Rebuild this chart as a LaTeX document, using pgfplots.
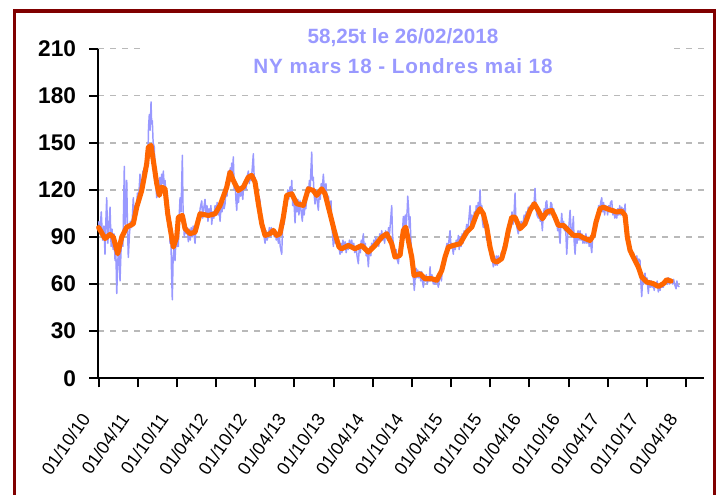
\documentclass[border=0pt]{standalone}
\usepackage{fontspec}
\setmainfont{Liberation Sans}
\usepackage{pgfplots}
\usepackage{pgfplotstable}
\pgfplotsset{compat=1.18}
\definecolor{framered}{RGB}{128,0,0}
\definecolor{blueline}{RGB}{153,153,255}
\definecolor{orangeline}{RGB}{255,102,0}
\definecolor{gridgray}{RGB}{185,185,185}
\definecolor{titleblue}{RGB}{153,153,255}

% daily price (blue), x = months since 01/10/2010
\pgfplotstableread{
m v
0 100
0.2 92
0.4 106
0.6 88
0.8 97
0.97 79
1.1 100
1.23 115
1.4 86
1.55 96
1.74 109
1.9 84
2.05 95
2.2 82
2.35 92
2.5 75
2.6 85
2.76 54
2.9 72
3.05 86
3.26 62
3.4 80
3.55 92
3.7 84
3.91 135
4.05 98
4.15 108
4.28 126
4.4 95
4.52 77
4.7 92
4.85 100
5.04 96
5.15 104
5.28 115
5.45 102
5.6 110
5.75 104
5.9 118
6.05 112
6.3 130
6.45 118
6.6 125
6.75 132
6.9 124
7.07 137
7.2 132
7.35 145
7.5 140
7.6 160
7.72 168
7.85 158
7.98 176
8.08 162
8.18 164
8.3 150
8.48 147
8.6 130
8.72 122
8.85 115
9.0 124
9.1 118
9.25 126
9.35 128
9.5 120
9.6 130
9.75 124
9.85 132
10.0 122
10.11 126
10.25 118
10.37 115
10.5 102
10.65 96
10.75 104
10.87 86
11.0 92
11.1 68
11.22 50
11.35 78
11.5 84
11.63 75
11.8 90
11.95 84
12.14 84
12.25 102
12.4 115
12.55 106
12.75 142
12.85 110
12.95 98
13.05 90
13.2 100
13.35 92
13.5 96
13.66 87
13.8 95
13.95 88
14.1 96
14.25 90
14.4 97
14.55 91
14.68 86
14.85 98
15.0 94
15.15 104
15.3 100
15.45 108
15.7 113
15.85 102
16.0 108
16.2 114
16.35 104
16.5 110
16.65 100
16.8 108
16.95 104
17.1 110
17.22 98
17.4 106
17.55 102
17.73 110
17.9 104
18.05 112
18.2 104
18.35 108
18.49 100
18.65 110
18.8 106
18.95 114
19.1 108
19.25 111
19.4 120
19.55 116
19.75 132
19.9 124
20.05 134
20.15 128
20.27 137
20.4 130
20.51 141
20.65 120
20.8 126
20.9 114
21.03 107
21.15 118
21.3 112
21.45 122
21.6 116
21.79 120
21.95 114
22.1 124
22.29 126
22.45 120
22.6 128
22.8 132
22.95 124
23.1 130
23.25 126
23.4 134
23.56 143
23.7 126
23.82 128
23.95 120
24.1 124
24.25 114
24.4 116
24.58 113
24.7 104
24.84 100
24.95 94
25.1 96
25.2 90
25.34 86
25.5 94
25.65 88
25.84 91
26.0 96
26.15 90
26.3 96
26.45 92
26.6 95
26.75 90
26.9 94
27.05 88
27.2 93
27.37 86
27.5 92
27.65 84
27.88 79
28.0 94
28.15 102
28.25 98
28.38 109
28.5 114
28.65 110
28.8 120
28.95 114
29.15 122
29.28 116
29.41 126
29.55 110
29.7 116
29.91 99
30.05 112
30.2 106
30.35 114
30.5 104
30.67 113
30.85 106
31.02 100
31.15 110
31.3 104
31.45 112
31.55 108
31.69 115
31.8 122
31.95 118
32.1 126
32.2 120
32.32 132
32.45 144
32.55 126
32.69 128
32.8 118
32.95 111
33.1 120
33.25 114
33.46 107
33.6 118
33.75 114
33.9 124
34.05 120
34.22 130
34.35 122
34.5 118
34.62 124
34.73 115
34.85 110
35.0 116
35.15 106
35.28 112
35.39 113
35.5 98
35.62 92
35.74 84
35.9 92
36.05 86
36.2 94
36.35 88
36.5 86
36.76 79
36.9 86
37.05 80
37.2 88
37.35 82
37.53 87
37.7 80
37.85 86
38.0 82
38.2 88
38.35 84
38.54 88
38.7 82
38.85 86
39.0 80
39.2 84
39.35 78
39.55 73
39.7 84
39.85 80
40.0 88
40.15 84
40.31 92
40.45 82
40.6 86
40.75 78
40.9 82
41.07 71
41.2 80
41.35 84
41.45 78
41.59 86
41.75 82
41.9 88
42.05 84
42.2 90
42.35 86
42.5 88
42.65 84
42.8 92
42.95 88
43.11 94
43.25 88
43.4 92
43.55 86
43.7 94
43.85 90
44.02 88
44.15 96
44.3 92
44.45 100
44.63 110
44.75 92
44.9 84
45.0 80
45.14 77
45.3 82
45.45 76
45.64 73
45.8 80
45.95 78
46.1 86
46.25 92
46.4 103
46.55 96
46.7 104
46.85 98
47.0 108
47.07 116
47.2 108
47.3 96
47.42 103
47.55 88
47.65 80
47.77 73
47.9 66
48.07 56
48.2 64
48.35 70
48.45 64
48.59 69
48.75 64
48.9 68
49.05 62
49.2 68
49.3 62
49.45 58
49.6 64
49.75 62
49.9 66
50.05 60
50.2 64
50.35 62
50.47 71
50.6 62
50.75 66
50.97 60
51.1 64
51.25 60
51.4 64
51.55 62
51.73 58
51.9 64
52.05 66
52.2 62
52.35 70
52.5 74
52.6 70
52.75 77
52.9 82
53.05 86
53.2 80
53.35 88
53.51 94
53.65 84
53.8 86
54.01 79
54.15 86
54.3 82
54.45 88
54.6 84
54.78 91
54.9 82
55.05 90
55.2 84
55.35 92
55.5 86
55.65 94
55.8 90
56.05 98
56.2 92
56.35 100
56.56 110
56.7 98
56.85 104
57.06 96
57.2 106
57.35 100
57.5 110
57.65 104
57.8 112
57.95 108
58.08 120
58.2 106
58.35 110
58.45 100
58.58 96
58.7 104
58.85 98
59.1 88
59.25 92
59.4 84
59.55 86
59.7 78
59.85 80
60.1 71
60.25 76
60.4 72
60.55 78
60.7 72
60.85 78
61.0 74
61.13 74
61.3 80
61.45 76
61.6 84
61.75 80
61.89 88
62.05 92
62.2 88
62.35 98
62.5 94
62.65 102
62.8 100
62.95 106
63.1 98
63.25 104
63.41 118
63.55 100
63.7 96
63.91 92
64.05 98
64.2 94
64.35 100
64.5 96
64.67 100
64.8 104
64.95 98
65.1 106
65.25 102
65.43 109
65.6 104
65.75 110
65.9 106
66.05 112
66.2 108
66.35 114
66.45 121
66.6 108
66.75 104
66.96 102
67.1 108
67.25 100
67.4 104
67.57 94
67.7 104
67.85 108
68.0 102
68.1 112
68.24 113
68.4 104
68.55 108
68.7 104
68.85 112
69.0 111
69.15 104
69.3 108
69.45 100
69.6 104
69.76 100
69.9 94
70.05 98
70.26 86
70.4 98
70.52 105
70.65 96
70.8 100
70.95 94
71.1 98
71.28 79
71.45 92
71.6 96
71.79 107
71.95 94
72.1 90
72.29 103
72.4 88
72.55 79
72.7 90
72.85 86
73.0 94
73.15 88
73.31 94
73.45 88
73.6 92
73.75 86
73.9 90
74.05 86
74.2 92
74.35 86
74.57 90
74.7 84
74.85 88
75.09 80
75.2 88
75.35 92
75.5 96
75.7 94
75.85 100
76.0 104
76.15 110
76.3 106
76.45 112
76.61 115
76.75 106
76.9 112
77.05 104
77.2 110
77.38 109
77.5 104
77.65 110
77.8 106
77.95 112
78.14 113
78.3 104
78.45 108
78.6 102
78.75 106
78.9 102
79.05 108
79.2 104
79.35 110
79.5 104
79.66 109
79.8 104
79.95 108
80.05 102
80.16 111
80.3 100
80.4 104
80.51 96
80.65 88
80.8 84
80.95 86
81.05 80
81.18 82
81.3 76
81.45 80
81.55 74
81.68 77
81.8 74
81.95 78
82.1 72
82.25 76
82.44 75
82.55 62
82.7 52
82.85 64
83.0 60
83.2 67
83.35 60
83.5 64
83.71 54
83.85 62
84.0 58
84.15 62
84.3 58
84.47 60
84.6 56
84.75 60
84.9 58
85.05 62
85.23 55
85.35 60
85.5 56
85.65 60
85.8 58
86.0 58
86.15 62
86.3 60
86.51 63
86.65 60
86.8 64
86.95 60
87.1 63
87.27 62
87.4 60
87.55 63
87.7 60
87.93 57
88.05 62
88.2 59
88.43 58.25
}\dailydata

% moving average (orange)
\pgfplotstableread{
m v
0 96
0.97 89
1.74 91.6
2.24 89.9
2.91 79.3
3.52 89.9
4.28 96.3
5.28 98.4
5.80 109
6.56 119.6
7.32 136.6
7.57 147.2
7.98 148.3
8.48 134.5
8.85 123.9
9.24 116.5
9.61 121.8
10.11 120.7
10.52 104.8
11.03 92.1
11.38 83.6
11.89 89.9
12.14 102.6
12.75 103.7
13.16 95.3
13.92 92.1
14.68 93.1
15.44 104.8
16.71 103.7
17.73 104.8
18.49 110.1
19.51 121.7
20.01 131.3
20.51 126
21.27 119.6
22.03 121.8
22.80 128.1
23.31 129.2
23.82 124.9
24.32 111.2
24.84 98.4
25.34 91
26.10 92.1
26.60 94.2
27.12 91
27.62 92.1
28.13 102.6
28.64 116.5
29.41 117.5
30.17 111.2
31.17 110.1
31.93 120.7
32.69 119.6
33.21 116.5
33.97 120.7
34.48 117.5
35.24 104.8
36.0 92.1
36.61 83.6
37.02 82.5
38.02 84.6
39.04 82.5
40.07 84.6
41.07 80.4
42.09 84.6
43.11 89.9
43.87 92.1
44.63 85.7
45.14 77.2
45.90 78.3
46.40 94.2
46.77 96.3
47.16 87.8
47.68 77.2
48.03 65.5
48.94 66.6
49.70 63.4
50.73 63.4
51.49 62.4
52.25 68.7
52.75 77.2
53.25 83.6
54.01 84.6
55.03 85.7
56.05 93.1
56.82 96.3
57.58 104.8
58.08 108
58.58 104.8
59.10 96.3
59.60 83.6
60.10 75.1
60.62 74
61.38 76.2
61.89 83.6
62.39 94.2
62.91 102.6
63.41 102.6
64.17 95.3
64.93 98.4
65.69 106.9
66.35 111.2
66.96 106.9
67.57 101.6
68.24 105.9
69.00 106.9
69.50 102.6
70.00 97.4
70.77 97.4
71.53 94.2
72.29 91
73.16 91
73.81 89.5
74.83 87.8
75.33 91
75.74 99.5
76.35 108
76.85 109
77.87 107.3
78.89 105.9
79.66 106.5
80.16 103.7
80.51 89.9
80.92 81.5
81.42 77.2
82.19 70.8
82.70 64.5
83.46 61.3
84.47 60.3
85.23 58.5
86.00 60.3
86.51 62.8
87.17 61.9
}\avgdata

\begin{document}
\begin{tikzpicture}
\path[use as bounding box] (0,0) rectangle (541.5pt,370.5pt);
\fill[white] (0,0) rectangle (541.5pt,370.5pt);
\begin{axis}[
  at={(73.725pt,86.775pt)}, anchor=south west,
  scale only axis, width=454.3pt, height=247.3pt,
  xmin=-0.05, xmax=92.19, ymin=0, ymax=210,
  axis lines=left,
  axis line style={-, line width=1.5pt, black},
  tick align=outside,
  major tick length=6.75pt,
  tick style={line width=1.5pt, black},
  ytick={0,30,...,210},
  xtick={0,5.963,11.926,17.889,23.852,29.815,35.778,41.741,47.704,53.667,59.63,65.593,71.556,77.519,83.482,89.445},
  xticklabels={01/10/10,01/04/11,01/10/11,01/04/12,01/10/12,01/04/13,01/10/13,01/04/14,01/10/14,01/04/15,01/10/15,01/04/16,01/10/16,01/04/17,01/10/17,01/04/18},
  ymajorgrids,
  grid style={dash pattern=on 4.1pt off 4.9pt, line width=1.2pt, gridgray},
  /pgf/number format/assume math mode=true,
  y tick label style={font=\fontsize{17}{17}\selectfont\bfseries, anchor=east, inner sep=0pt, xshift=-9.8pt},
  x tick label style={font=\fontsize{13.5}{13.5}\selectfont, anchor=east, inner sep=0pt, xshift=-9.5pt, yshift=-21pt, rotate=55},
  clip=false,
]
\addplot[blueline, line width=1.1pt, line join=round] table[x=m, y=v] {\dailydata};
\addplot[orangeline, line width=3.8pt, line join=round, line cap=round] table[x=m, y=v] {\avgdata};
\end{axis}
% title area
\fill[white] (105pt,310pt) rectangle (502.5pt,356pt);
\node[anchor=base, text=titleblue, font=\fontsize{15.5}{15.5}\selectfont\bfseries] at (302.25pt,338pt) {58,25t le 26/02/2018};
\node[anchor=base, text=titleblue, font=\fontsize{15.5}{15.5}\selectfont\bfseries\addfontfeature{LetterSpace=4}] at (302.25pt,315.5pt) {NY mars 18 - Londres mai 18};
% outer frame
\draw[framered, line width=2.3pt] (10.9pt,-10pt) -- (10.9pt,362.25pt) -- (535.9pt,362.25pt) -- (535.9pt,-10pt);
\end{tikzpicture}
\end{document}
